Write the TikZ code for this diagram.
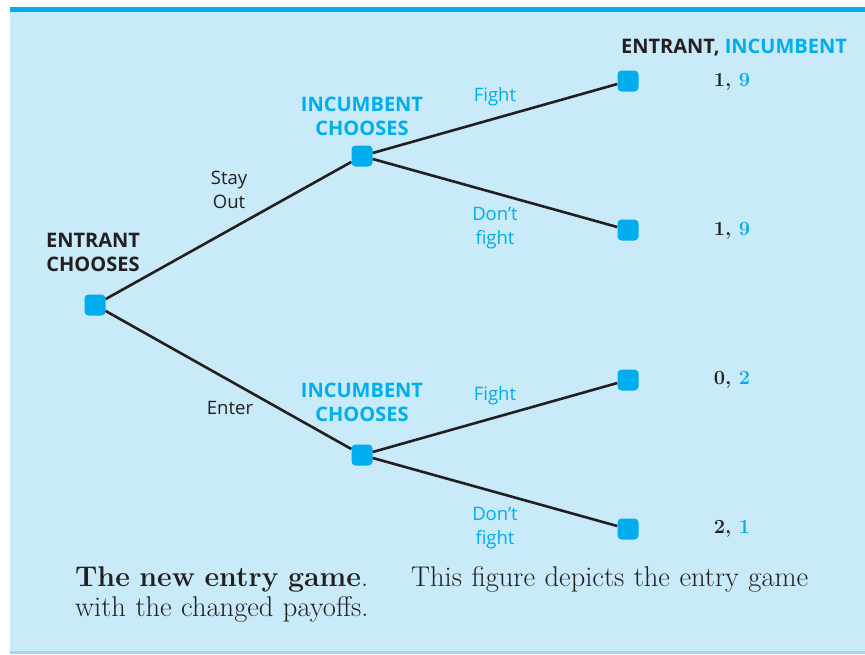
\documentclass[tikz,border=0pt]{standalone}
\usepackage{fontspec}
\newfontfamily\lab{Open Sans}
\definecolor{bgblue}{HTML}{C8EAF9}
\definecolor{cyanb}{HTML}{00AEEF}
\definecolor{ink}{HTML}{231F20}
\definecolor{lineblue}{HTML}{9FD9F4}
\tikzset{
  dot/.style={fill=cyanb, rounded corners=4pt, minimum size=21pt, inner sep=0pt},
  edge/.style={draw=ink, line width=2.6pt},
  head/.style={font=\lab\bfseries\fontsize{20}{24}\selectfont, align=center, inner sep=0pt},
  act/.style={font=\lab\fontsize{18.5}{24}\selectfont, align=center, inner sep=0pt},
  pay/.style={font=\bfseries\fontsize{20}{22}\selectfont, inner sep=0pt, text=ink},
}
\begin{document}
\begin{tikzpicture}[x=1pt,y=-1pt]
\useasboundingbox (0,0) rectangle (865,654);
\fill[bgblue] (10,10) rectangle (865,652);
\fill[cyanb] (10,7) rectangle (865,12);
\fill[lineblue] (10,651) rectangle (865,654);

\node[dot] (e) at (95,305) {};
\node[dot] (i1) at (362,156) {};
\node[dot] (i2) at (362,455) {};
\node[dot] (t1) at (628,81) {};
\node[dot] (t2) at (628,230) {};
\node[dot] (t3) at (628,380) {};
\node[dot] (t4) at (628,529) {};

\draw[edge] (e) -- (i1);
\draw[edge] (e) -- (i2);
\draw[edge] (i1) -- (t1);
\draw[edge] (i1) -- (t2);
\draw[edge] (i2) -- (t3);
\draw[edge] (i2) -- (t4);

\node[head, text=ink] (eh) at (93,252) {ENTRANT\\CHOOSES};
\node[head, text=cyanb] (i1h) at (362,116) {INCUMBENT\\CHOOSES};
\node[head, text=cyanb] (i2h) at (362,402) {INCUMBENT\\CHOOSES};

\node[act, text=ink] (so) at (229,190) {Stay\\Out};
\node[act, text=ink] (en) at (230,408) {Enter};
\node[act, text=cyanb] (f1) at (495,97) {Fight};
\node[act, text=cyanb] (d1) at (495,228) {Don’t\\fight};
\node[act, text=cyanb] (f2) at (495,396) {Fight};
\node[act, text=cyanb] (d2) at (495,528) {Don’t\\fight};

\node[head, text=ink] (hdr) at (734,48) {ENTRANT, \textcolor{cyanb}{INCUMBENT}};
\node[pay] (p1) at (732,82) {1, \textcolor{cyanb}{9}};
\node[pay] (p2) at (732,231) {1, \textcolor{cyanb}{9}};
\node[pay] (p3) at (732,380) {0, \textcolor{cyanb}{2}};
\node[pay] (p4) at (732,529) {2, \textcolor{cyanb}{1}};

\node[anchor=north west, inner sep=0pt, text width=733pt, text=ink,
      font=\fontsize{28.5}{30}\selectfont, align=left] (cap) at (75,566)
  {\textbf{The new entry game}.\hfill This figure depicts the entry game\\with the changed payoffs.};
\end{tikzpicture}
\end{document}
